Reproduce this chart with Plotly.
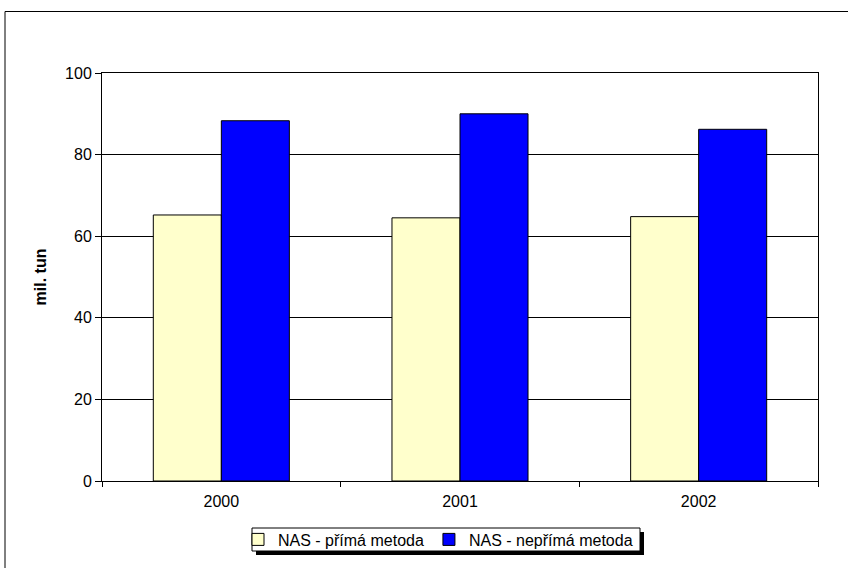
import plotly.graph_objects as go

# Data: NAS (mil. tun) by year, direct vs. indirect method
years = ["2000", "2001", "2002"]
prima = [65.2, 64.5, 64.8]
neprima = [88.3, 90.0, 86.2]
y_ticks = [0, 20, 40, 60, 80, 100]

W, H = 848, 568
L, R, T, B = 102, 30, 73, 87
pw, ph = W - L - R, H - T - B

def px_x(x):
    return (x - L) / pw

def px_y(y):
    return (H - B - y) / ph

font = dict(family="Liberation Sans, Arial, sans-serif", size=16, color="black")

fig = go.Figure()
fig.add_trace(go.Bar(x=years, y=prima, name="NAS - přímá metoda",
                     marker=dict(color="#FFFFCC", line=dict(color="black", width=1))))
fig.add_trace(go.Bar(x=years, y=neprima, name="NAS - nepřímá metoda",
                     marker=dict(color="#0000FF", line=dict(color="black", width=1))))

# legend frame with drop shadow (pixel box)
lg_x0, lg_x1, lg_y0, lg_y1 = 252, 640, 528, 551
sh = 4

fig.update_layout(
    width=W, height=H,
    margin=dict(l=L, r=R, t=T, b=B, autoexpand=False),
    paper_bgcolor="white", plot_bgcolor="white",
    font=font,
    barmode="group", bargap=0.43, bargroupgap=0,
    showlegend=True,
    legend=dict(orientation="h", x=px_x(lg_x0 - 14), xanchor="left",
                y=px_y((lg_y0 + lg_y1) / 2), yanchor="middle",
                bgcolor="rgba(0,0,0,0)", borderwidth=0,
                font=dict(size=16), itemwidth=30, tracegroupgap=0),
    xaxis=dict(showgrid=False, showline=True, linecolor="black", linewidth=1, mirror=True,
               ticks="outside", tickson="boundaries", ticklen=5, tickcolor="black",
               ticklabelstandoff=6, tickfont=dict(size=16)),
    yaxis=dict(range=[0, 100], tickvals=y_ticks, showgrid=True, gridcolor="black", gridwidth=1,
               showline=True, linecolor="black", linewidth=1, mirror=True,
               ticks="outside", ticklen=6, tickcolor="black", zeroline=False,
               tickfont=dict(size=16),
               title=dict(text="<b>mil. tun</b>", font=dict(size=16), standoff=14)),
    shapes=[
        # outer chart frame
        dict(type="rect", xref="paper", yref="paper",
             x0=px_x(5), x1=px_x(870), y0=px_y(590), y1=px_y(11.5),
             line=dict(color="black", width=1), fillcolor="rgba(0,0,0,0)", layer="below"),
        # legend drop shadow
        dict(type="rect", xref="paper", yref="paper",
             x0=px_x(lg_x0 + sh), x1=px_x(lg_x1 + sh), y0=px_y(lg_y1 + sh), y1=px_y(lg_y0 + sh),
             line=dict(width=0), fillcolor="black", layer="above"),
        # legend frame
        dict(type="rect", xref="paper", yref="paper",
             x0=px_x(lg_x0), x1=px_x(lg_x1), y0=px_y(lg_y1), y1=px_y(lg_y0),
             line=dict(color="black", width=1), fillcolor="white", layer="above"),
    ],
)

fig.write_html("out.html")
